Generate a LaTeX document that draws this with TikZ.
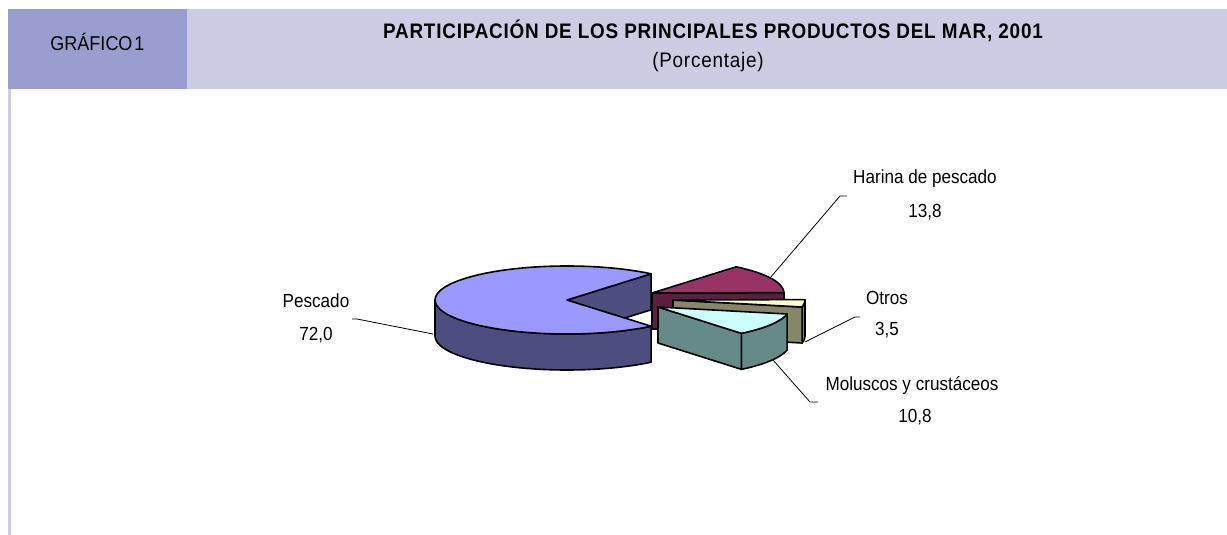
\documentclass[tikz,border=0pt]{standalone}
\usepackage{fontspec}
\setmainfont{Liberation Sans}[FakeStretch=0.9]
\newfontfamily\titlefont{Liberation Sans}[FakeStretch=0.9,LetterSpace=3.7]
\usetikzlibrary{calc}

\definecolor{headdark}{HTML}{9A9ECE}
\definecolor{headlight}{HTML}{CCCCE4}
\definecolor{pescadotop}{HTML}{9999FF}
\definecolor{pescadoside}{HTML}{4D4D80}
\definecolor{harinatop}{HTML}{993366}
\definecolor{harinaside}{HTML}{5C1F3F}
\definecolor{otrostop}{HTML}{FFFFCC}
\definecolor{otrosside}{HTML}{86866A}
\definecolor{moluscostop}{HTML}{CCFFFF}
\definecolor{moluscosside}{HTML}{668A87}

\tikzset{
	rim/.style={draw=black,line width=1.6pt,line join=round},
	leader/.style={draw=black,line width=0.8pt},
	lbl/.style={anchor=base,inner sep=0pt,font=\fontsize{19}{19}\selectfont},
}

\begin{document}
\begin{tikzpicture}[x=1pt,y=-1pt]
	\useasboundingbox (0,0) rectangle (1227,535);
	% header band
	\fill[headlight] (187,9) rectangle (1227,89);
	\fill[headdark] (8,9) rectangle (187,89);
	\draw[headlight,line width=2.7pt] (9.5,89) -- (9.5,535);
	\node(grafico) [anchor=base,inner sep=0pt,font=\fontsize{20}{20}\selectfont] at (97.5,51) {GRÁFICO\kern2pt1};
	\node(titulo) [anchor=base,inner sep=0pt,font=\titlefont\bfseries\fontsize{21}{21}\selectfont] at (713,39) {PARTICIPACIÓN DE LOS PRINCIPALES PRODUCTOS DEL MAR, 2001};
	\node(unidad) [anchor=base,inner sep=0pt,font=\titlefont\fontsize{21}{21}\selectfont] at (708,68) {(Porcentaje)};

	% pie, exploded slices
	\def\rx{132}
	\def\ry{34}
	\def\dz{36}
	\coordinate(pc) at (567,300);
	\coordinate(hc) at (652,293);
	\coordinate(oc) at (673,300);
	\coordinate(mc) at (658,307);

	% Pescado
	\filldraw[rim,fill=pescadoside] (pc) -- ($(pc)+(-50.4:{\rx} and {\ry})$) -- ++(0,\dz) -- ($(pc)+(0,\dz)$) -- cycle;
	\filldraw[rim,fill=pescadoside] ($(pc)+(50.4:{\rx} and {\ry})$) arc[start angle=50.4,end angle=180,x radius=\rx,y radius=\ry] -- ++(0,\dz) arc[start angle=180,end angle=50.4,x radius=\rx,y radius=\ry] -- cycle;
	\filldraw[rim,fill=pescadotop] (pc) -- ($(pc)+(-50.4:{\rx} and {\ry})$) arc[start angle=-50.4,end angle=-309.6,x radius=\rx,y radius=\ry] -- cycle;

	% Harina de pescado
	\filldraw[rim,fill=harinaside] (hc) -- ($(hc)+(-0.7:{\rx} and {\ry})$) -- ++(0,\dz) -- ($(hc)+(0,\dz)$) -- cycle;
	\filldraw[rim,fill=harinatop] (hc) -- ($(hc)+(-50.4:{\rx} and {\ry})$) arc[start angle=-50.4,end angle=-0.7,x radius=\rx,y radius=\ry] -- cycle;

	% Otros
	\filldraw[rim,fill=otrosside] ($(oc)+(0:{\rx} and {\ry})$) arc[start angle=0,end angle=11.9,x radius=\rx,y radius=\ry] -- ++(0,\dz) arc[start angle=11.9,end angle=0,x radius=\rx,y radius=\ry] -- cycle;
	\filldraw[rim,fill=otrosside] (oc) -- ($(oc)+(11.9:{\rx} and {\ry})$) -- ++(0,\dz) -- ($(oc)+(0,\dz)$) -- cycle;
	\filldraw[rim,fill=otrostop] (oc) -- ($(oc)+(-0.7:{\rx} and {\ry})$) arc[start angle=-0.7,end angle=11.9,x radius=\rx,y radius=\ry] -- cycle;

	% Moluscos y crustaceos
	\filldraw[rim,fill=moluscosside] ($(mc)+(11.9:{\rx} and {\ry})$) arc[start angle=11.9,end angle=50.8,x radius=\rx,y radius=\ry] -- ++(0,\dz) arc[start angle=50.8,end angle=11.9,x radius=\rx,y radius=\ry] -- cycle;
	\filldraw[rim,fill=moluscosside] (mc) -- ($(mc)+(50.8:{\rx} and {\ry})$) -- ++(0,\dz) -- ($(mc)+(0,\dz)$) -- cycle;
	\filldraw[rim,fill=moluscostop] (mc) -- ($(mc)+(11.9:{\rx} and {\ry})$) arc[start angle=11.9,end angle=50.8,x radius=\rx,y radius=\ry] -- cycle;

	% labels
	\node(pescado) [lbl] at (316,307) {Pescado};
	\node(pescadov) [lbl] at (316,340) {72,0};
	\node(harina) [lbl] at (925,183) {Harina de pescado};
	\node(harinav) [lbl] at (925,217) {13,8};
	\node(otros) [lbl] at (887,304) {Otros};
	\node(otrosv) [lbl] at (887,335) {3,5};
	\node(moluscos) [lbl] at (912,390) {Moluscos y crustáceos};
	\node(moluscosv) [lbl] at (915,422) {10,8};

	% leaders
	\coordinate(pescadoend) at (352,319);
	\coordinate(pescadoknee) at (357,319);
	\coordinate(pescadopt) at (433,334);
	\coordinate(harinaend) at (847,196);
	\coordinate(harinaknee) at (840,196);
	\coordinate(harinapt) at (770,278);
	\coordinate(otrosend) at (860,317);
	\coordinate(otrosknee) at (855,317);
	\coordinate(otrospt) at (805,342);
	\coordinate(moluscosend) at (818,402);
	\coordinate(moluscosknee) at (810,402);
	\coordinate(moluscospt) at (773,360);
	\draw[leader] (pescadoend) -- (pescadoknee) -- (pescadopt);
	\draw[leader] (harinaend) -- (harinaknee) -- (harinapt);
	\draw[leader] (otrosend) -- (otrosknee) -- (otrospt);
	\draw[leader] (moluscosend) -- (moluscosknee) -- (moluscospt);
\end{tikzpicture}
\end{document}
